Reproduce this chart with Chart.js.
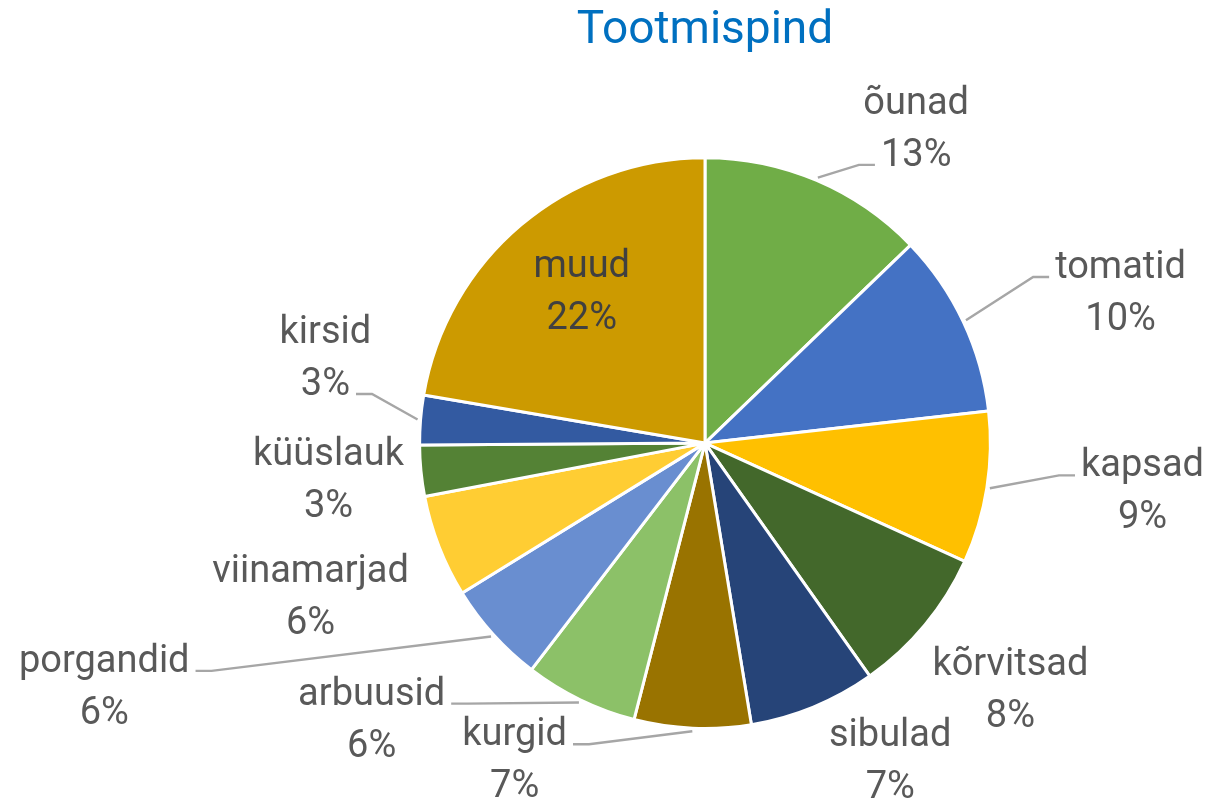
<!DOCTYPE html>
<html lang="et">
<head>
<meta charset="UTF-8">
<meta name="viewport" content="width=device-width, initial-scale=1.0">
<title>Tootmispind</title>
<script src="https://cdn.jsdelivr.net/npm/chart.js"></script>
<style>
  html, body { margin: 0; padding: 0; background: #fff; }
  #wrap { width: 1220px; height: 800px; }
</style>
</head>
<body>
<div id="wrap"><canvas id="myChart"></canvas></div>
<script>
  // data (shares in %)
  const categories = ['õunad', 'tomatid', 'kapsad', 'kõrvitsad', 'sibulad', 'kurgid',
    'arbuusid', 'porgandid', 'viinamarjad', 'küüslauk', 'kirsid', 'muud'];
  const shares = [12.8, 10.4, 8.6, 8.4, 7.2, 6.6, 6.4, 5.8, 5.8, 2.9, 2.8, 22.3];

  const sliceColors = ['#70AD47', '#4472C4', '#FFC000', '#43682B', '#264478', '#997300',
    '#8CC168', '#698ED0', '#FFCD33', '#548235', '#335AA1', '#CC9A00'];

  // where each label sits, relative to the pie centre in radii,
  // and which text line the leader line attaches to
  const labelLayout = [
    { dx: 0.740, dy: -1.115, line: 'bottom' },
    { dx: 1.456, dy: -0.540, line: 'top' },
    { dx: 1.533, dy: 0.155, line: 'top' },
    { dx: 1.070, dy: 0.850, line: null },
    { dx: 0.649, dy: 1.100, line: null },
    { dx: -0.667, dy: 1.097, line: 'top' },
    { dx: -1.168, dy: 0.955, line: 'top' },
    { dx: -2.105, dy: 0.840, line: 'top' },
    { dx: -1.382, dy: 0.525, line: null },
    { dx: -1.319, dy: 0.116, line: null },
    { dx: -1.330, dy: -0.312, line: 'bottom' },
    { dx: -0.432, dy: -0.543, line: null, inside: true }
  ];

  // draws the category / percent labels with leader lines
  const outsideLabels = {
    id: 'outsideLabels',
    afterDraw(chart) {
      const ctx = chart.ctx;
      const meta = chart.getDatasetMeta(0);
      const total = shares.reduce((a, b) => a + b, 0);
      ctx.save();
      ctx.font = '38px Roboto';
      ctx.textAlign = 'center';
      ctx.textBaseline = 'alphabetic';
      meta.data.forEach((arc, i) => {
        const r = arc.outerRadius;
        const lay = labelLayout[i];
        const cx = arc.x + lay.dx * r;
        const cy = arc.y + lay.dy * r;
        const lines = [categories[i], Math.round(shares[i] / total * 100) + '%'];
        const base1 = cy - 11;
        const base2 = cy + 41;

        if (lay.line) {
          const mid = (arc.startAngle + arc.endAngle) / 2;
          const px = arc.x + Math.cos(mid) * (r + 3);
          const py = arc.y + Math.sin(mid) * (r + 3);
          const txt = lay.line === 'top' ? lines[0] : lines[1];
          const half = ctx.measureText(txt).width / 2;
          const ey = (lay.line === 'top' ? base1 : base2) - 1;
          const dir = cx > px ? -1 : 1;
          const ex = cx + dir * (half + 6);
          const sx = ex + dir * 16;
          ctx.beginPath();
          ctx.moveTo(px, py);
          ctx.lineTo(sx, ey);
          ctx.lineTo(ex, ey);
          ctx.strokeStyle = '#A6A6A6';
          ctx.lineWidth = 2.4;
          ctx.stroke();
        }

        ctx.fillStyle = lay.inside ? '#404040' : '#595959';
        ctx.fillText(lines[0], cx, base1);
        ctx.fillText(lines[1], cx, base2);
      });
      ctx.restore();
    }
  };

  let ctx = document.getElementById('myChart').getContext('2d');
  new Chart(ctx, {
    type: 'pie',
    data: {
      labels: categories,
      datasets: [{
        data: shares,
        backgroundColor: sliceColors,
        borderColor: '#FFFFFF',
        borderWidth: 3
      }]
    },
    options: {
      responsive: true,
      maintainAspectRatio: false,
      animation: false,
      events: [],
      layout: {
        padding: { left: 417, right: 227, top: 0, bottom: 70 }
      },
      plugins: {
        legend: { display: false },
        tooltip: { enabled: false },
        title: {
          display: true,
          text: 'Tootmispind',
          color: '#0070C0',
          font: { family: 'Roboto', size: 46, weight: 'normal' },
          padding: { top: 4, bottom: 97 }
        }
      }
    },
    plugins: [outsideLabels]
  });
</script>
</body>
</html>
